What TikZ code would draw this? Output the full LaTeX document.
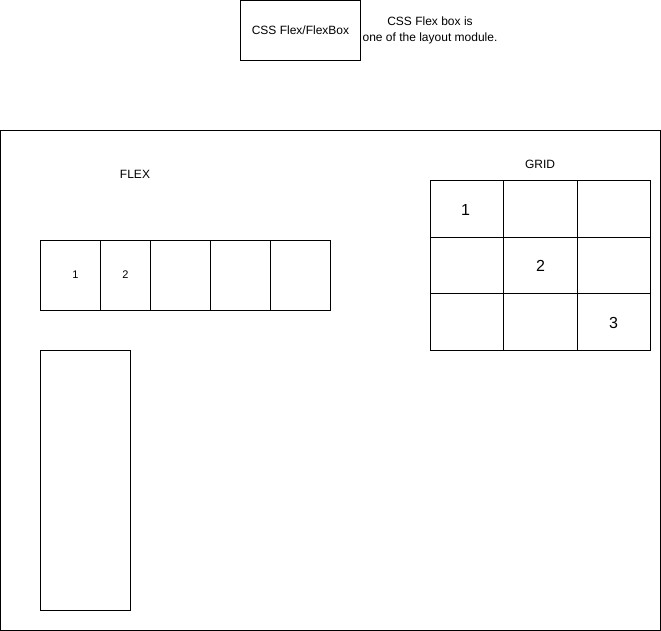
\documentclass[tikz,border=0pt]{standalone}
\usepackage{fontspec}
\setmainfont{Liberation Sans}
\begin{document}
\begin{tikzpicture}[x=1pt,y=-1pt,
  box/.style={draw=black,line width=1pt,inner sep=0pt},
  lbl/.style={font=\fontsize{12}{14}\selectfont,inner sep=0pt},
  small/.style={font=\fontsize{11}{13}\selectfont,inner sep=0pt},
  big/.style={font=\fontsize{16}{18}\selectfont,inner sep=0pt}]
\useasboundingbox (0,0) rectangle (661,631);
% top
\draw[box] (240.5,0.5) rectangle (360.5,60.5);
\node[lbl] (title) at (300.5,30.5) {CSS Flex/FlexBox};
\node[lbl,align=center,font=\fontsize{12}{16}\selectfont] (desc) at (430,30) {CSS Flex box is\\one of the layout module.};
% container
\draw[box] (0.5,130.5) rectangle (660.5,630.5);
\node[lbl] (flex) at (135,174) {FLEX};
\node[lbl] (grid) at (540,164) {GRID};
% flex row
\draw[box] (40.5,240.5) rectangle (100.5,310.5);
\draw[box] (100.5,240.5) rectangle (150.5,310.5);
\draw[box] (150.5,240.5) rectangle (210.5,310.5);
\draw[box] (210.5,240.5) rectangle (270.5,310.5);
\draw[box] (270.5,240.5) rectangle (330.5,310.5);
\node[small] (f1) at (75.5,274.5) {1};
\node[small] (f2) at (125.5,274.5) {2};
% flex column
\draw[box] (40.5,350.5) rectangle (130.5,610.5);
% grid
\foreach \xa/\xb in {430.5/503.5,503.5/577.5,577.5/650.5}
  \foreach \ya/\yb in {180.5/237.5,237.5/293.5,293.5/350.5}
    \draw[box] (\xa,\ya) rectangle (\xb,\yb);
\node[big] (g1) at (465.5,209.5) {1};
\node[big] (g2) at (540.5,265.5) {2};
\node[big] (g3) at (613.5,322.5) {3};
\end{tikzpicture}
\end{document}
